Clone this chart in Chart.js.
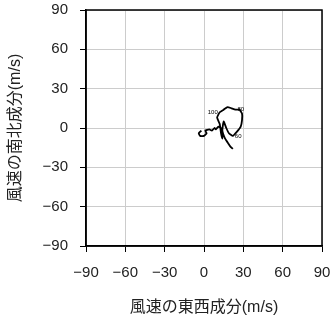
<!DOCTYPE html>
<html>
<head>
<meta charset="utf-8">
<script src="https://cdn.jsdelivr.net/npm/chart.js@4"></script>
<style>
html,body{margin:0;padding:0;background:#fff;}
#wrap{width:332px;height:319px;position:relative;}
</style>
</head>
<body>
<div id="wrap"><canvas id="c" width="332" height="319"></canvas></div>
<script>
// Hodograph: east-west (u) and north-south (v) wind components, m/s
const uValues = [-2,-4,-3,0,2,1,4,6,8,9,11,13,14,14,13,12,10,12,15,18,21,24,27,29,29,28,25,22,19,17,15,14,16,18,20,22];
const vValues = [-2,-4,-6,-6,-4,-2,-1,-2,0,-1,1,0,-4,-8,-4,3,8,12,14,16,15,14,14,11,6,1,-3,-6,-4,0,5,-2,-8,-11,-14,-16];
const pointLabels = ["","","","","","","","","","","","","","","","","","100","","","","80","","","","","","60","","","","","","","",""];
const labelSide = ["","","","","","","","","","","","","","","","","","left","","","","right","","","","","","right","","","","","","","",""];
const tickValues = [-90,-60,-30,0,30,60,90];
const xTitle = "風速の東西成分(m/s)";
const yTitle = "風速の南北成分(m/s)";

const pts = uValues.map((u,i)=>({x:u,y:vValues[i]}));
const fmt = v => String(v).replace('-', '\u2212');

const boxPlugin = {
  id:'box',
  afterDatasetsDraw(chart){
    const {ctx, chartArea:a, scales} = chart;
    ctx.save();
    ctx.fillStyle = '#000';
    ctx.font = '6px "Liberation Sans", Arial, sans-serif';
    ctx.textBaseline = 'middle';
    pointLabels.forEach((t,i)=>{
      if(!t) return;
      const px = scales.x.getPixelForValue(uValues[i]);
      const py = scales.y.getPixelForValue(vValues[i]);
      if (labelSide[i] === 'left') { ctx.textAlign = 'right'; ctx.fillText(t, px - 2, py); }
      else { ctx.textAlign = 'left'; ctx.fillText(t, px + 2, py); }
    });
    ctx.strokeStyle = '#000';
    ctx.lineWidth = 1.5;
    ctx.strokeRect(a.left, a.top, a.right-a.left, a.bottom-a.top);
    ctx.restore();
  }
};
const noPad = s => { s.paddingLeft = 0; s.paddingRight = 0; s.paddingTop = 0; s.paddingBottom = 0; };

new Chart(document.getElementById('c'), {
  type:'scatter',
  data:{datasets:[{
    data: pts,
    showLine:true,
    borderColor:'#000',
    borderWidth:1.8,
    pointRadius:0,
    tension:0.15,
    fill:false
  }]},
  options:{
    responsive:false,
    animation:false,
    devicePixelRatio:1,
    layout:{padding:{top:10,right:10,bottom:2,left:0}},
    plugins:{legend:{display:false},tooltip:{enabled:false}},
    scales:{
      x:{
        type:'linear', min:-90, max:90,
        afterBuildTicks: s => { s.ticks = tickValues.map(v=>({value:v})); },
        ticks:{callback: fmt, color:'#222', font:{family:'"Liberation Sans", Arial, sans-serif', size:15}, padding:12, maxRotation:0, autoSkip:false},
        grid:{color:'#cccccc', lineWidth:1, tickLength:6, tickColor:'#000'},
        border:{color:'#000', width:1.5},
        title:{display:true, text:xTitle, color:'#222', font:{family:'"Liberation Sans", "Noto Sans CJK JP", sans-serif', size:16}, padding:{top:14,bottom:0}},
        afterFit: s => { s.height = 71; noPad(s); }
      },
      y:{
        type:'linear', min:-90, max:90,
        afterBuildTicks: s => { s.ticks = tickValues.map(v=>({value:v})); },
        ticks:{callback: fmt, color:'#222', font:{family:'"Liberation Sans", Arial, sans-serif', size:15}, padding:12, autoSkip:false},
        grid:{color:'#cccccc', lineWidth:1, tickLength:6, tickColor:'#000'},
        border:{color:'#000', width:1.5},
        title:{display:true, text:yTitle, color:'#222', font:{family:'"Liberation Sans", "Noto Sans CJK JP", sans-serif', size:16}, padding:{top:6,bottom:0}},
        afterFit: s => { s.width = 86; noPad(s); }
      }
    }
  },
  plugins:[boxPlugin]
});
</script>
</body>
</html>
